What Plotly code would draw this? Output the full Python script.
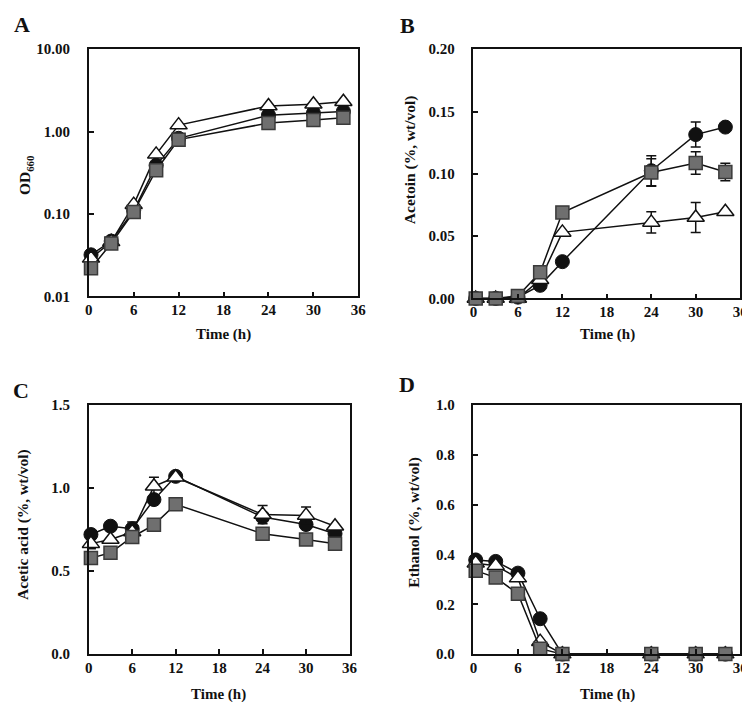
import plotly.graph_objects as go

W, H = 750, 702

time_h = [0.3, 3, 6, 9, 12, 24, 30, 34]

# Panel A: OD660 (log)
od_circle = [0.032, 0.047, 0.110, 0.39, 0.83, 1.58, 1.68, 1.76]
od_square = [0.022, 0.044, 0.106, 0.34, 0.80, 1.27, 1.38, 1.47]
od_triangle = [0.029, 0.046, 0.130, 0.53, 1.20, 2.05, 2.15, 2.30]

# Panel B: Acetoin
act_circle = [0.0, 0.0, 0.001, 0.0105, 0.0295, 0.1025, 0.1315, 0.1375]
act_circle_err = [0, 0, 0, 0, 0, 0.012, 0.010, 0]
act_square = [0.0, 0.0, 0.002, 0.021, 0.069, 0.101, 0.1087, 0.1014]
act_square_err = [0, 0, 0, 0, 0, 0.011, 0.009, 0.007]
act_triangle = [0.0, 0.0, 0.0, 0.015, 0.053, 0.061, 0.065, 0.0695]
act_triangle_err = [0, 0, 0, 0, 0, 0.0085, 0.012, 0]

# Panel C: Acetic acid
aa_circle = [0.72, 0.77, 0.755, 0.93, 1.07, 0.825, 0.78, 0.725]
aa_circle_err = [0, 0, 0.04, 0, 0, 0, 0, 0]
aa_square = [0.578, 0.61, 0.705, 0.778, 0.902, 0.725, 0.69, 0.665]
aa_square_err = [0, 0, 0, 0, 0, 0, 0, 0]
aa_triangle = [0.665, 0.69, 0.735, 1.01, 1.065, 0.84, 0.835, 0.77]
aa_triangle_err = [0.03, 0, 0, 0.055, 0, 0.055, 0.05, 0]

# Panel D: Ethanol
et_circle = [0.378, 0.372, 0.325, 0.142, 0, 0, 0, 0]
et_square = [0.335, 0.307, 0.242, 0.022, 0, 0, 0, 0]
et_triangle = [0.365, 0.355, 0.305, 0.05, 0, 0, 0, 0]

x_ticks = [0, 6, 12, 18, 24, 30, 36]

FONT = "Liberation Serif"

# panel boxes in pixels: (left, right, top, bottom)
boxes = {
    1: (78, 352, 34, 287),
    2: (469, 740, 34, 289),
    3: (78, 343, 398, 653),
    4: (469, 740, 398, 653),
}

styles = {
    "circle": dict(symbol="circle", size=14, color="#111111",
                   line=dict(color="#111111", width=1)),
    "triangle": dict(symbol="triangle-up", size=15, color="white",
                     line=dict(color="#111111", width=1.5)),
    "square": dict(symbol="square", size=13, color="#6f6f6f",
                   line=dict(color="#3a3a3a", width=1.5)),
}

fig = go.Figure()


def add(panel, y, kind, err=None):
    suffix = "" if panel == 1 else str(panel)
    kw = {}
    if err is not None:
        kw["error_y"] = dict(type="data", array=err, visible=True,
                             color="#111111", thickness=1.5, width=5)
    fig.add_trace(go.Scatter(
        x=time_h, y=y, mode="lines+markers",
        line=dict(color="#111111", width=1.5),
        marker=styles[kind], cliponaxis=False, showlegend=False,
        xaxis="x" + suffix, yaxis="y" + suffix, **kw))


add(1, od_circle, "circle")
add(1, od_triangle, "triangle")
add(1, od_square, "square")

add(2, act_circle, "circle", act_circle_err)
add(2, act_triangle, "triangle", act_triangle_err)
add(2, act_square, "square", act_square_err)

add(3, aa_circle, "circle", aa_circle_err)
add(3, aa_triangle, "triangle", aa_triangle_err)
add(3, aa_square, "square", aa_square_err)

add(4, et_circle, "circle")
add(4, et_triangle, "triangle")
add(4, et_square, "square")

tickfont = dict(family=FONT, size=15, color="#111111", weight="bold")

axis_common = dict(showline=True, linecolor="#111111", linewidth=1.5,
                   mirror=True, ticks="inside", tickcolor="#111111",
                   ticklen=5, tickwidth=1.5, showgrid=False, zeroline=False,
                   tickfont=tickfont)

layout = dict(width=W, height=H, margin=dict(l=0, r=0, t=0, b=0),
              paper_bgcolor="white", plot_bgcolor="white",
              font=dict(family=FONT, color="#111111"))

y_specs = {
    1: dict(type="log", range=[-2, 1], tickvals=[0.01, 0.1, 1, 10],
            ticktext=["0.01", "0.10", "1.00", "10.00"]),
    2: dict(range=[0, 0.2], tickvals=[0, 0.05, 0.10, 0.15, 0.20],
            ticktext=["0.00", "0.05", "0.10", "0.15", "0.20"]),
    3: dict(range=[0, 1.5], tickvals=[0, 0.5, 1.0, 1.5],
            ticktext=["0.0", "0.5", "1.0", "1.5"]),
    4: dict(range=[0, 1.0], tickvals=[0, 0.2, 0.4, 0.6, 0.8, 1.0],
            ticktext=["0.0", "0.2", "0.4", "0.6", "0.8", "1.0"]),
}

for p, (l, r, t, b) in boxes.items():
    suffix = "" if p == 1 else str(p)
    layout["xaxis" + suffix] = dict(
        axis_common, domain=[l / W, r / W], range=[0, 36],
        tickvals=x_ticks, ticktext=[str(v) for v in x_ticks],
        anchor="y" + suffix, ticklabelstandoff=-1)
    layout["yaxis" + suffix] = dict(
        axis_common, domain=[1 - b / H, 1 - t / H],
        anchor="x" + suffix, ticklabelstandoff=14, **y_specs[p])

fig.update_layout(**layout)

title_font = dict(family=FONT, size=15, color="#111111", weight="bold")
ytitle_font = dict(family=FONT, size=15.5, color="#111111", weight="bold")
letter_font = dict(family=FONT, size=22, color="#111111", weight="bold")


def ann(text, x, y, font, angle=0):
    fig.add_annotation(text=text, x=x / W, y=1 - y / H, xref="paper",
                       yref="paper", showarrow=False, font=font,
                       textangle=angle, xanchor="center", yanchor="middle")


# x titles
ann("Time (h)", 215, 326, title_font)
ann("Time (h)", 605, 326, title_font)
ann("Time (h)", 210, 694, title_font)
ann("Time (h)", 605, 694, title_font)

# y titles
ann("OD<sub>660</sub>", 14, 163, ytitle_font, -90)
ann("Acetoin (%, wt/vol)", 404, 147, ytitle_font, -90)
ann("Acetic acid (%, wt/vol)", 11, 520, ytitle_font, -90)
ann("Ethanol (%, wt/vol)", 409, 518, ytitle_font, -90)

# panel letters
ann("A", 10, 9, letter_font)
ann("B", 402, 10, letter_font)
ann("C", 9, 383, letter_font)
ann("D", 401, 377, letter_font)

fig.write_html("out.html")
